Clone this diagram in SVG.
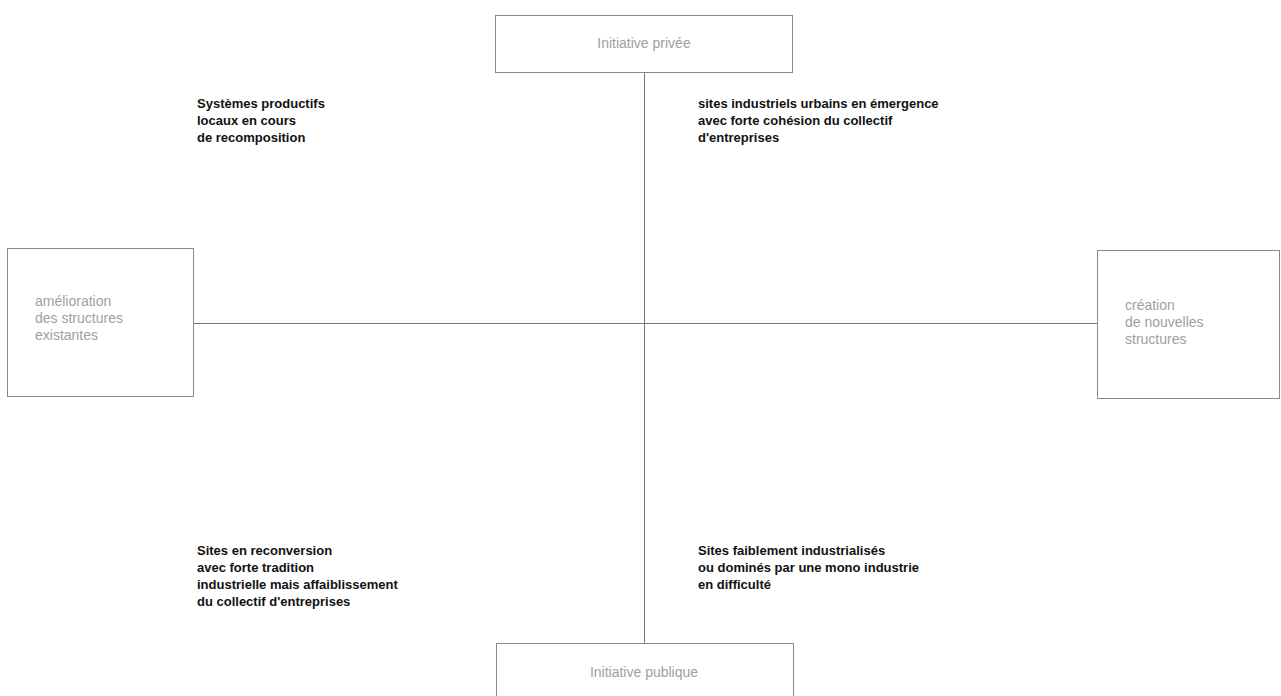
<svg xmlns="http://www.w3.org/2000/svg" width="1281" height="696" viewBox="0 0 1281 696">
<style>
.box{fill:#fff;stroke:#8a8a8a;stroke-width:1}
.lbl{font-family:"Liberation Sans",Arial,sans-serif;font-size:14px;fill:#a0a0a0}
.q{font-family:"Liberation Sans",Arial,sans-serif;font-size:13px;font-weight:bold;fill:#111}
.ax{stroke:#777;stroke-width:1;fill:none}
</style>
<rect width="1281" height="696" fill="#fff"/>
<g id="connectors">
<line class="ax" x1="644.5" y1="73" x2="644.5" y2="643"/>
<line class="ax" x1="194" y1="323.5" x2="1097" y2="323.5"/>
</g>
<g id="top">
<rect class="box" x="495.5" y="15.5" width="297" height="57"/>
<text class="lbl" x="644" y="48" text-anchor="middle">Initiative privée</text>
</g>
<g id="left">
<rect class="box" x="7.5" y="248.5" width="186" height="148"/>
<text class="lbl" x="35" y="306">amélioration</text>
<text class="lbl" x="35" y="323">des structures</text>
<text class="lbl" x="35" y="340">existantes</text>
</g>
<g id="right">
<rect class="box" x="1097.5" y="250.5" width="182" height="148"/>
<text class="lbl" x="1125" y="310">création</text>
<text class="lbl" x="1125" y="327">de nouvelles</text>
<text class="lbl" x="1125" y="344">structures</text>
</g>
<g id="bottom">
<rect class="box" x="496.5" y="643.5" width="297" height="60"/>
<text class="lbl" x="644" y="677" text-anchor="middle">Initiative publique</text>
</g>
<g id="q-tl">
<text class="q" x="197" y="108">Systèmes productifs</text>
<text class="q" x="197" y="125">locaux en cours</text>
<text class="q" x="197" y="142">de recomposition</text>
</g>
<g id="q-tr">
<text class="q" x="698" y="108">sites industriels urbains en émergence</text>
<text class="q" x="698" y="125">avec forte cohésion du collectif</text>
<text class="q" x="698" y="142">d'entreprises</text>
</g>
<g id="q-bl">
<text class="q" x="197" y="555">Sites en reconversion</text>
<text class="q" x="197" y="572">avec forte tradition</text>
<text class="q" x="197" y="589">industrielle mais affaiblissement</text>
<text class="q" x="197" y="606">du collectif d'entreprises</text>
</g>
<g id="q-br">
<text class="q" x="698" y="555">Sites faiblement industrialisés</text>
<text class="q" x="698" y="572">ou dominés par une mono industrie</text>
<text class="q" x="698" y="589">en difficulté</text>
</g>
</svg>
